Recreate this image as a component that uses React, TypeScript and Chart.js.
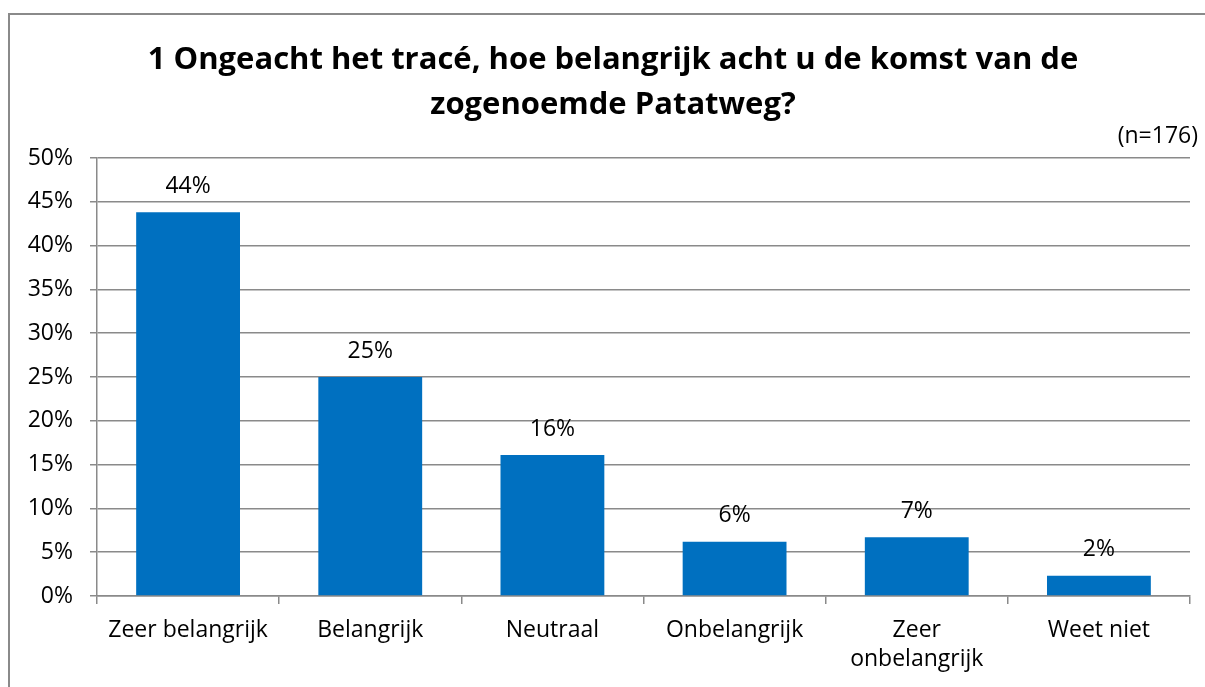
import React, { useEffect, useRef } from "react";
import { Chart, registerables } from "chart.js";

Chart.register(...registerables);

const categories: (string | string[])[] = [
  "Zeer belangrijk",
  "Belangrijk",
  "Neutraal",
  "Onbelangrijk",
  ["Zeer", "onbelangrijk"],
  "Weet niet",
];
const values: number[] = [43.8, 25.0, 16.1, 6.2, 6.7, 2.3];
const titleLines: string[] = [
  "1 Ongeacht het tracé, hoe belangrijk acht u de komst van de",
  "zogenoemde Patatweg?",
];
const sampleNote = "(n=176)";
const yTicksMax = 50;
const yTicksStep = 5;

const FONT = "'Open Sans', Lato, sans-serif";
const GRID = "#8a8a8a";
const TICK_SIZE = 23;

const labelsPlugin = {
  id: "extraLabels",
  afterDraw(chart: any) {
    const ctx = chart.ctx;
    ctx.save();
    ctx.fillStyle = "#000";
    ctx.textAlign = "center";
    ctx.textBaseline = "middle";
    ctx.font = `bold 31px ${FONT}`;
    titleLines.forEach((line, i) => ctx.fillText(line, 613, 60 + i * 45));
    ctx.font = `${TICK_SIZE}px ${FONT}`;
    const meta = chart.getDatasetMeta(0);
    meta.data.forEach((bar: any, i: number) => {
      ctx.fillText(Math.round(values[i]) + "%", bar.x, bar.y - 26);
    });
    ctx.textAlign = "right";
    ctx.fillText(sampleNote, 1198, 136);
    ctx.restore();
  },
};

export default function App() {
  const ref = useRef<HTMLCanvasElement>(null);
  useEffect(() => {
    if (!ref.current) return;
    const chart = new Chart(ref.current, {
      type: "bar",
      data: {
        labels: categories,
        datasets: [
          {
            data: values,
            backgroundColor: "#0070C0",
            borderWidth: 0,
            barPercentage: 0.57,
            categoryPercentage: 1,
          },
        ],
      },
      options: {
        responsive: false,
        animation: false,
        devicePixelRatio: 1,
        layout: { padding: { left: 0, right: 15, top: 158, bottom: 0 } },
        plugins: {
          legend: { display: false },
          tooltip: { enabled: false },
          title: { display: false },
        },
        scales: {
          x: {
            grid: {
              display: true,
              drawOnChartArea: false,
              offset: true,
              tickLength: 8,
              color: GRID,
              lineWidth: 1.5,
            },
            border: { display: true, color: GRID, width: 1.5 },
            ticks: {
              color: "#000",
              font: { family: FONT, size: TICK_SIZE, lineHeight: 1.26 },
              padding: 12,
              maxRotation: 0,
              autoSkip: false,
            },
            afterFit(scale: any) {
              scale.height = 91;
            },
          },
          y: {
            min: 0,
            max: yTicksMax,
            ticks: {
              stepSize: yTicksStep,
              color: "#000",
              font: { family: FONT, size: TICK_SIZE },
              padding: 17,
              callback: (v: any) => v + "%",
            },
            grid: { color: GRID, lineWidth: 1.5, tickLength: 7 },
            border: { display: true, color: GRID, width: 1.5 },
            afterFit(scale: any) {
              scale.width = 97;
            },
          },
        },
      },
      plugins: [labelsPlugin],
    });
    return () => chart.destroy();
  }, []);

  return (
    <div
      style={{
        position: "fixed",
        left: 0,
        top: 0,
        width: 1205,
        height: 687,
        background: "#fff",
        overflow: "hidden",
      }}
    >
      <div
        style={{
          position: "absolute",
          left: 8,
          top: 13,
          width: 1400,
          height: 900,
          border: "2px solid #8a8a8a",
        }}
      />
      <canvas
        ref={ref}
        width={1205}
        height={687}
        style={{ position: "absolute", left: 0, top: 0 }}
      />
    </div>
  );
}
